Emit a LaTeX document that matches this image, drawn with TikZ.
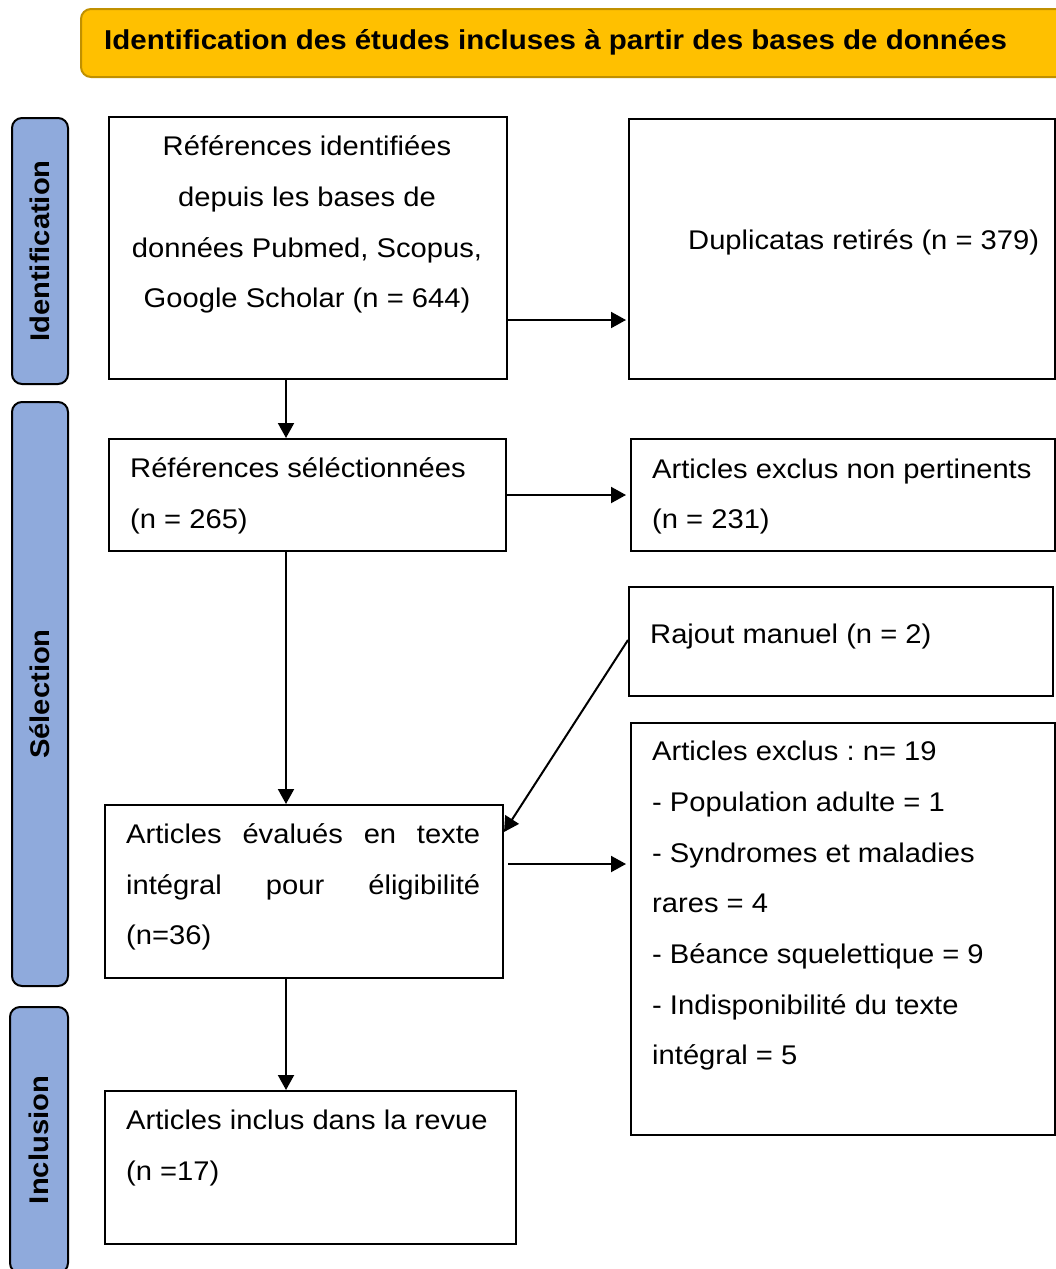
\documentclass[tikz,border=0pt]{standalone}
\usepackage{fontspec}
\setmainfont{Liberation Sans}[FakeStretch=1.08]
\usetikzlibrary{arrows.meta,calc}
\definecolor{hdrfill}{HTML}{FFC000}
\definecolor{hdrline}{HTML}{C09000}
\definecolor{sidefill}{HTML}{8FAADC}
\frenchspacing
\begin{document}
\begin{tikzpicture}[x=1pt,y=-1pt,
  box/.style={draw=black, line width=2pt, anchor=north west, inner sep=0pt, fill=white},
  txt/.style={anchor=base west, inner sep=0pt, font=\fontsize{27}{30}\selectfont},
  ctxt/.style={anchor=base, inner sep=0pt, font=\fontsize{27}{30}\selectfont},
  sidebar/.style={draw=black, line width=2pt, fill=sidefill, rounded corners=10pt, rotate=90, inner sep=0pt,
     font=\bfseries\fontsize{27}{30}\selectfont},
  hdrbox/.style={draw=hdrline, line width=2pt, fill=hdrfill, rounded corners=10pt, anchor=north west, inner sep=0pt},
  arr/.style={line width=2pt, -{Triangle[length=15pt,width=16pt]}}
]
\useasboundingbox (0,0) rectangle (1056,1269);
\clip (0,0) rectangle (1056,1269);

% header
\node[hdrbox, minimum width=1000pt, minimum height=68pt] (hdr) at (80,8) {};
\node[anchor=base west, inner sep=0pt, font=\bfseries\fontsize{27.3}{30}\selectfont] (hdrt) at (104,49)
  {Identification des études incluses à partir des bases de données};

% side bars
\node[sidebar, minimum width=266pt, minimum height=56pt] (sid1) at (40,251) {Identification};
\node[sidebar, minimum width=584pt, minimum height=56pt] (sid2) at (40,694) {Sélection};
\node[sidebar, minimum width=266pt, minimum height=58pt] (sid3) at (39,1140) {Inclusion};

% boxes
\node[box, minimum width=398pt, minimum height=262pt] (b1) at (108,116) {};
\node[box, minimum width=426pt, minimum height=260pt] (b2) at (628,118) {};
\node[box, minimum width=397pt, minimum height=112pt] (b3) at (108,438) {};
\node[box, minimum width=424pt, minimum height=112pt] (b4) at (630,438) {};
\node[box, minimum width=424pt, minimum height=109pt] (b5) at (628,586) {};
\node[box, minimum width=398pt, minimum height=173pt] (b6) at (104,804) {};
\node[box, minimum width=424pt, minimum height=412pt] (b7) at (630,722) {};
\node[box, minimum width=411pt, minimum height=153pt] (b8) at (104,1090) {};

% texts
\node[ctxt] (b1l1) at (307,155) {Références identifiées};
\node[ctxt] (b1l2) at (307,206) {depuis les bases de};
\node[ctxt] (b1l3) at (307,257) {données Pubmed, Scopus,};
\node[ctxt] (b1l4) at (307,307) {Google Scholar (n = 644)};

\node[txt] (b2l1) at (688,249) {Duplicatas retirés (n = 379)};

\node[txt] (b3l1) at (130,477) {Références séléctionnées};
\node[txt] (b3l2) at (130,528) {(n = 265)};

\node[txt] (b4l1) at (652,478) {Articles exclus non pertinents};
\node[txt] (b4l2) at (652,528) {(n = 231)};

\node[txt] (b5l1) at (650,643) {Rajout manuel (n = 2)};

\node[txt] (b6l1) at (126,843) {\makebox[354pt][s]{Articles évalués en texte}};
\node[txt] (b6l2) at (126,894) {\makebox[354pt][s]{intégral pour éligibilité}};
\node[txt] (b6l3) at (126,944) {(n=36)};

\node[txt] (b7l1) at (652,760) {Articles exclus : n= 19};
\node[txt] (b7l2) at (652,811) {- Population adulte = 1};
\node[txt] (b7l3) at (652,862) {- Syndromes et maladies};
\node[txt] (b7l4) at (652,912) {rares = 4};
\node[txt] (b7l5) at (652,963) {- Béance squelettique = 9};
\node[txt] (b7l6) at (652,1014) {- Indisponibilité du texte};
\node[txt] (b7l7) at (652,1064) {intégral = 5};

\node[txt] (b8l1) at (126,1129) {Articles inclus dans la revue};
\node[txt] (b8l2) at (126,1180) {(n =17)};

% connectors
\coordinate (a1) at ($(b1.south west)+(178,0)$);
\draw[arr] (a1) -- (a1 |- b3.north);
\coordinate (a3) at ($(b3.south west)+(178,0)$);
\draw[arr] (a3) -- (a3 |- b6.north);
\coordinate (a6) at ($(b6.south west)+(182,0)$);
\draw[arr] (a6) -- (a6 |- b8.north);

\coordinate (h1) at ($(b1.south east)+(0,-60)$);
\draw[arr] (h1) -- ($(h1 -| b2.west)+(-2,0)$);
\draw[arr] (b3.east) -- ($(b3.east -| b4.west)+(-4,0)$);
\coordinate (h6) at ($(b6.north east)+(4,60)$);
\draw[arr] (h6) -- ($(h6 -| b7.west)+(-4,0)$);

\draw[arr] ($(b5.south west)+(0,-57)$) -- ($(b6.north east)+(0,28)$);
\end{tikzpicture}
\end{document}
